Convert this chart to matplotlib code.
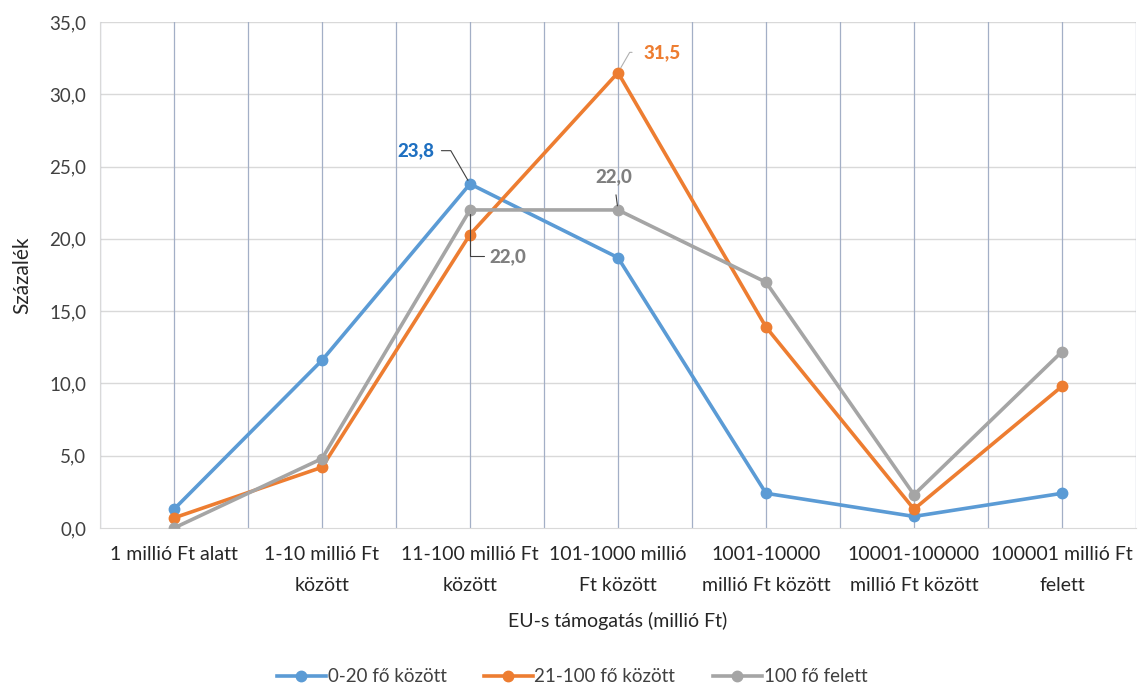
import matplotlib
matplotlib.use("Agg")
import matplotlib.pyplot as plt
import numpy as np

plt.rcParams['font.family'] = ['Lato', 'DejaVu Sans']

categories = ["1 millió Ft alatt", "1-10 millió Ft\nközött", "11-100 millió Ft\nközött",
              "101-1000 millió\nFt között", "1001-10000\nmillió Ft között",
              "10001-100000\nmillió Ft között", "100001 millió Ft\nfelett"]
series_names = ["0-20 fő között", "21-100 fő között", "100 fő felett"]
small = [1.3, 11.6, 23.8, 18.7, 2.4, 0.8, 2.4]
medium = [0.7, 4.2, 20.3, 31.5, 13.9, 1.3, 9.8]
large = [0.0, 4.8, 22.0, 22.0, 17.0, 2.3, 12.2]
colors = ["#5b9bd5", "#ed7d31", "#a5a5a5"]
yticks = [0, 5, 10, 15, 20, 25, 30, 35]

fig = plt.figure(figsize=(11.38, 6.86), dpi=100)
ax = fig.add_axes([100/1138, 1-528/686, 1036/1138, 506/686])

x = np.arange(len(categories))
for vals, c, name in zip([small, medium, large], colors, series_names):
    ax.plot(x, vals, color=c, lw=2.6, marker='o', ms=7.5, label=name, zorder=3)

ax.set_xlim(-0.5, len(categories) - 0.5)
ax.set_ylim(0, 35)
ax.set_yticks(yticks)
ax.set_yticklabels([f"{v:.1f}".replace('.', ',') for v in yticks], fontsize=13.5, color='#404040')
ax.set_xticks(x)
ax.set_xticklabels(categories, fontsize=14, color='#262626', linespacing=2.0)
ax.tick_params(length=0, pad=10)
ax.tick_params(axis='x', pad=13)
for yv in yticks[1:]:
    ax.axhline(yv, color='#d9d9d9', lw=1, zorder=1)
for xv in np.arange(-0.5, len(categories), 0.5):
    ax.axvline(xv, color='#a3afc6', lw=0.9, zorder=1)
for s in ['top', 'right']:
    ax.spines[s].set_visible(False)
ax.spines['left'].set_color('#d9d9d9')
ax.spines['bottom'].set_color('#d9d9d9')

ax.set_ylabel("Százalék", fontsize=15, color='#262626', labelpad=12)
ax.set_xlabel("EU-s támogatás (millió Ft)", fontsize=14, color='#262626', labelpad=13)

# data labels with leader lines
ax.annotate(f"{small[2]:.1f}".replace('.', ','), xy=(x[2], small[2]), xytext=(x[2]-0.24, 26.1),
            fontsize=13.5, fontweight='black', color='#1f70c1', ha='right', va='center',
            arrowprops=dict(arrowstyle='-', color='#404040', lw=0.8,
                            connectionstyle='angle,angleA=0,angleB=120,rad=0', shrinkA=3, shrinkB=3))
ax.annotate(f"{medium[3]:.1f}".replace('.', ','), xy=(x[3], medium[3]), xytext=(x[3]+0.17, 32.9),
            fontsize=13.5, fontweight='black', color='#ed7d31', ha='left', va='center',
            arrowprops=dict(arrowstyle='-', color='#b0b0b0', lw=0.8,
                            connectionstyle='angle,angleA=180,angleB=60,rad=0', shrinkA=6, shrinkB=4))
ax.annotate(f"{large[3]:.1f}".replace('.', ','), xy=(x[3], large[3]), xytext=(x[3]-0.03, 24.3),
            fontsize=13.5, fontweight='black', color='#7f7f7f', ha='center', va='center',
            arrowprops=dict(arrowstyle='-', color='#404040', lw=0.8, shrinkA=5, shrinkB=3))
ax.annotate(f"{large[2]:.1f}".replace('.', ','), xy=(x[2], large[2]), xytext=(x[2]+0.13, 18.8),
            fontsize=13.5, fontweight='black', color='#7f7f7f', ha='left', va='center',
            arrowprops=dict(arrowstyle='-', color='#404040', lw=0.8,
                            connectionstyle='angle,angleA=0,angleB=90,rad=0', shrinkA=2, shrinkB=3))

fig.legend(loc='center', bbox_to_anchor=(572/1138, 1-677/686), ncol=3, frameon=False,
           fontsize=13.5, handlelength=2.6, columnspacing=2.0, handletextpad=0.1,
           labelcolor='#404040')

fig.savefig("out.png", dpi=100, facecolor='white')
